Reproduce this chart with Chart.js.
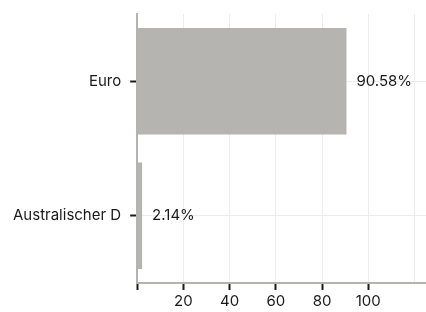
<!DOCTYPE html>
<html>
<head>
<meta charset="utf-8">
<script src="https://cdn.jsdelivr.net/npm/chart.js@4"></script>
<style>
  html, body { margin: 0; padding: 0; background: #fff; }
  #wrap { width: 426px; height: 312px; }
</style>
</head>
<body>
<div id="wrap"><canvas id="chart"></canvas></div>
<script>
// Data
const categories = ['Euro', 'Australischer D'];
const shares = [90.58, 2.14];
const xTicks = [0, 20, 40, 60, 80, 100, 120];

const barColor = '#b5b4b0';
const textColor = '#1a1a1a';
const fontFamily = 'Inter, "Noto Sans", sans-serif';

// Value labels right of each bar
const valueLabels = {
  id: 'valueLabels',
  afterDatasetsDraw(chart) {
    const ctx = chart.ctx;
    const meta = chart.getDatasetMeta(0);
    ctx.save();
    ctx.font = '15px ' + fontFamily;
    ctx.fillStyle = textColor;
    ctx.textBaseline = 'middle';
    ctx.textAlign = 'left';
    meta.data.forEach((bar, i) => {
      ctx.fillText(shares[i].toFixed(2) + '%', bar.x + 10, bar.y);
    });
    ctx.restore();
  }
};

new Chart(document.getElementById('chart').getContext('2d'), {
  type: 'bar',
  data: {
    labels: categories,
    datasets: [{
      data: shares,
      backgroundColor: barColor,
      borderWidth: 0,
      categoryPercentage: 0.79,
      barPercentage: 1
    }]
  },
  options: {
    indexAxis: 'y',
    responsive: true,
    maintainAspectRatio: false,
    animation: false,
    layout: { padding: { top: 14, right: 0, left: 4, bottom: 0 } },
    plugins: { legend: { display: false }, tooltip: { enabled: false } },
    scales: {
      x: {
        min: 0,
        max: 125,
        afterBuildTicks: axis => { axis.ticks = xTicks.map(v => ({ value: v })); },
        border: { color: '#b3b3b0', width: 2 },
        grid: {
          color: '#ececec',
          tickLength: 7,
          tickColor: c => (c.tick && c.tick.value <= 100) ? textColor : 'rgba(0,0,0,0)',
          tickWidth: 2
        },
        ticks: {
          color: textColor,
          font: { family: fontFamily, size: 15 },
          padding: 2,
          maxRotation: 0,
          callback: v => (v === 0 || v === 120) ? '' : v
        }
      },
      y: {
        offset: true,
        afterFit: axis => { axis.paddingTop = 0; axis.paddingBottom = 0; },
        border: { color: '#b3b3b0', width: 2 },
        grid: {
          offset: false,
          color: '#ececec',
          tickColor: textColor,
          tickLength: 7,
          tickWidth: 2
        },
        ticks: {
          color: textColor,
          font: { family: fontFamily, size: 15 },
          padding: 9
        }
      }
    }
  },
  plugins: [valueLabels]
});
</script>
</body>
</html>
